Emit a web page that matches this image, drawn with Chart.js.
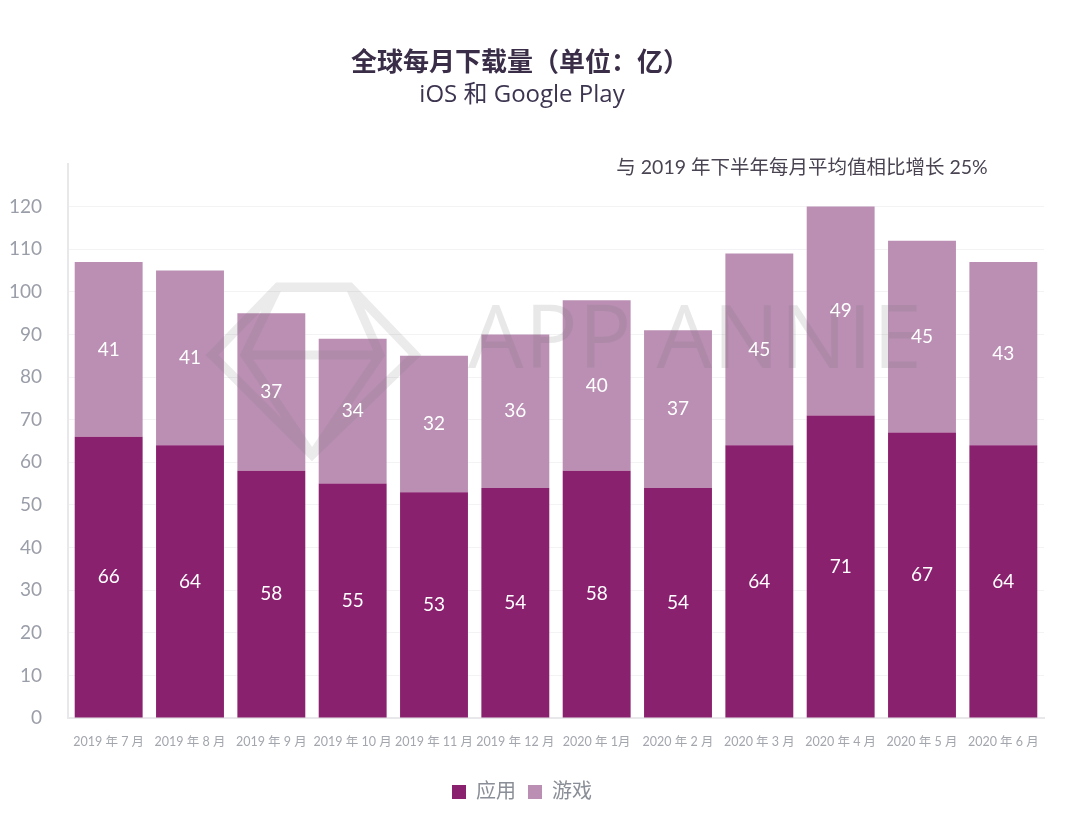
<!DOCTYPE html>
<html>
<head>
<meta charset="utf-8">
<script src="https://cdn.jsdelivr.net/npm/chart.js@4/dist/chart.umd.min.js"></script>
<style>
  html, body { margin: 0; padding: 0; background: #ffffff; }
  #wrap { width: 1080px; height: 820px; }
</style>
</head>
<body>
<div id="wrap"><canvas id="main-chart" width="1080" height="820"></canvas></div>
<script>
const months = [
  "2019 年 7 月", "2019 年 8 月", "2019 年 9 月", "2019 年 10 月",
  "2019 年 11 月", "2019 年 12 月", "2020 年 1月", "2020 年 2 月",
  "2020 年 3 月", "2020 年 4 月", "2020 年 5 月", "2020 年 6 月",
];
const apps = [66, 64, 58, 55, 53, 54, 58, 54, 64, 71, 67, 64];
const games = [41, 41, 37, 34, 32, 36, 40, 37, 45, 49, 45, 43];
const seriesNames = ["应用", "游戏"];

const FONT = "Lato, 'Noto Sans CJK SC', sans-serif";
const WIDE_FONT = "'Open Sans', 'Noto Sans CJK SC', sans-serif";

// titles, note and watermark
const decorations = {
  id: "decorations",
  afterDatasetsDraw(chart) {
    const ctx = chart.ctx;
    ctx.save();

    // watermark
    ctx.strokeStyle = "rgba(120, 120, 120, 0.15)";
    ctx.lineWidth = 9;
    ctx.lineJoin = "miter";
    ctx.beginPath();
    ctx.moveTo(278, 287);
    ctx.lineTo(350, 287);
    ctx.lineTo(415, 355);
    ctx.lineTo(312, 455);
    ctx.lineTo(212, 355);
    ctx.closePath();
    ctx.moveTo(278, 287);
    ctx.lineTo(245, 355);
    ctx.lineTo(312, 455);
    ctx.moveTo(350, 287);
    ctx.lineTo(380, 355);
    ctx.lineTo(312, 455);
    ctx.moveTo(245, 355);
    ctx.lineTo(380, 355);
    ctx.stroke();

    ctx.fillStyle = "rgba(120, 120, 120, 0.17)";
    ctx.font = "400 88px 'Open Sans', sans-serif";
    ctx.textAlign = "left";
    ctx.textBaseline = "middle";
    if ("letterSpacing" in ctx) ctx.letterSpacing = "1px";
    ctx.fillText("APP ANNIE", 468, 343);
    if ("letterSpacing" in ctx) ctx.letterSpacing = "0px";

    // values inside bars
    ctx.fillStyle = "#ffffff";
    ctx.font = "19px " + FONT;
    ctx.textAlign = "center";
    ctx.textBaseline = "middle";
    chart.data.datasets.forEach((ds, i) => {
      const meta = chart.getDatasetMeta(i);
      meta.data.forEach((bar, j) => {
        const p = bar.getCenterPoint();
        ctx.fillText(String(ds.data[j]), p.x, p.y);
      });
    });

    // titles
    ctx.fillStyle = "#3a2d47";
    ctx.font = "bold 26px " + FONT;
    ctx.fillText("全球每月下载量（单位：亿）", 520, 63);
    ctx.fillStyle = "#3d3450";
    ctx.font = "24px " + WIDE_FONT;
    ctx.fillText("iOS 和 Google Play", 522, 95);

    ctx.fillStyle = "#4a4452";
    ctx.font = "19.5px " + FONT;
    ctx.fillText("与 2019 年下半年每月平均值相比增长 25%", 802, 168);

    ctx.restore();
  },
};

const mainChart = document.getElementById("main-chart").getContext("2d");

const chartConfig = {
  type: "bar",
  data: {
    labels: months,
    datasets: [
      {
        label: seriesNames[0],
        data: apps,
        backgroundColor: "#8a216f",
        borderWidth: 0,
      },
      {
        label: seriesNames[1],
        data: games,
        backgroundColor: "#ba8fb3",
        borderWidth: 0,
      },
    ],
  },
  options: {
    responsive: false,
    animation: false,
    devicePixelRatio: 1,
    datasets: {
      bar: {
        barPercentage: 0.835,
        categoryPercentage: 1,
      },
    },
    layout: {
      padding: { top: 164, right: 36, bottom: 8, left: 0 },
    },
    scales: {
      x: {
        stacked: true,
        grid: { display: false, drawTicks: false },
        border: { color: "#e8e8ea", width: 2 },
        ticks: {
          color: "#a3a6ad",
          font: { family: FONT, size: 12.5 },
          padding: 16,
          maxRotation: 0,
          autoSkip: false,
        },
        afterFit(scale) {
          scale.height = 52;
        },
      },
      y: {
        stacked: true,
        min: 0,
        max: 130,
        grid: {
          color: (c) => (c.tick && c.tick.value > 120 ? "rgba(0,0,0,0)" : "#f3f3f5"),
          drawTicks: false,
        },
        border: { color: "#e8e8ea", width: 2 },
        ticks: {
          stepSize: 10,
          color: "#9a9ea8",
          font: { family: FONT, size: 19 },
          padding: 26,
          callback: (v) => (v > 120 ? "" : v),
        },
        afterFit(scale) {
          scale.width = 68;
        },
      },
    },
    plugins: {
      legend: {
        position: "bottom",
        labels: {
          color: "#8a8e96",
          font: { family: FONT, size: 20 },
          boxWidth: 14,
          boxHeight: 14,
          padding: 12,
        },
      },
      tooltip: { enabled: false },
      title: { display: false },
    },
  },
  plugins: [decorations],
};

window.bread = new Chart(mainChart, chartConfig);
</script>
</body>
</html>
